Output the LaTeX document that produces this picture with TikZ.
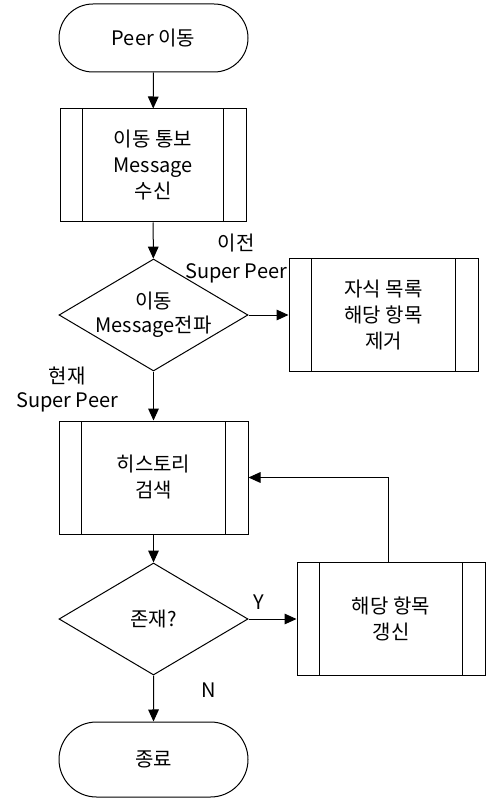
\documentclass[tikz,border=0pt]{standalone}
\usepackage{fontspec}
\setmainfont{Noto Sans CJK KR}
\usetikzlibrary{shapes.geometric,shapes.misc,arrows.meta}

\tikzset{
  base/.style={font=\fontsize{15}{19.5}\selectfont, align=center},
  terminal/.style={base, draw, rounded rectangle, minimum width=141.75pt, inner sep=0pt},
  subproceso/.style={base, draw, rectangle, minimum height=84.75pt, inner sep=0pt,
    path picture={
      \draw ([xshift=17pt]path picture bounding box.north west) -- ([xshift=17pt]path picture bounding box.south west);
      \draw ([xshift=-17pt]path picture bounding box.north east) -- ([xshift=-17pt]path picture bounding box.south east);
    }},
  decision/.style={draw, diamond, minimum width=141.75pt, minimum height=84pt, inner sep=0pt},
  texto/.style={base},
  flecha/.style={-{Triangle[length=9pt,width=8pt]}}
}

\begin{document}
\begin{tikzpicture}[x=0.75pt, y=-0.75pt, line width=0.75pt]
    % Fija el marco del dibujo (en pixeles de la imagen).
    \useasboundingbox (0,0) rectangle (485,798);

    % Columna principal del diagrama de flujo.
    \node[terminal, minimum height=51pt] (ini) at (153.5,38) {Peer 이동};
    \node[subproceso, minimum width=139.5pt] (recv) at (153,165.5) {이동 통보\\Message\\수신};
    \node[decision] (prop) at (153.5,315) {};
    \node[texto, font=\fontsize{15}{18}\selectfont] (tprop) at (153.5,315) {이동\\Message전파};
    \node[subproceso, minimum width=141.75pt] (hist) at (153.5,477.5) {히스토리\\검색};
    \node[decision] (exist) at (153.5,619) {};
    \node[texto] (texist) at (153.5,619) {존재?};
    \node[terminal, minimum height=56.25pt] (fin) at (153.5,759.5) {종료};

    % Procesos de la derecha.
    \node[subproceso, minimum width=141.75pt] (quitar) at (383.5,315) {자식 목록\\해당 항목\\제거};
    \node[subproceso, minimum width=141pt] (renovar) at (391,619) {해당 항목\\갱신};

    % Etiquetas de las ramas.
    \node[texto, font=\fontsize{15}{21}\selectfont] (lprev) at (236,259) {이전\\Super Peer};
    \node[texto, font=\fontsize{15}{18}\selectfont] (lcur) at (67,390) {현재\\Super Peer};
    \node[texto] (lsi) at (259,602) {Y};
    \node[texto] (lno) at (209,690) {N};

    % Conectores.
    \draw[flecha] (ini) -- (recv);
    \draw[flecha] (recv) -- (prop);
    \draw[flecha] (prop) -- (quitar);
    \draw[flecha] (prop) -- (hist);
    \draw[flecha] (hist) -- (exist);
    \draw[flecha] (exist) -- (renovar);
    \draw[flecha] ([xshift=-2.25pt]renovar.north) |- (hist.east);
    \draw[flecha] (exist) -- (fin);
\end{tikzpicture}
\end{document}
